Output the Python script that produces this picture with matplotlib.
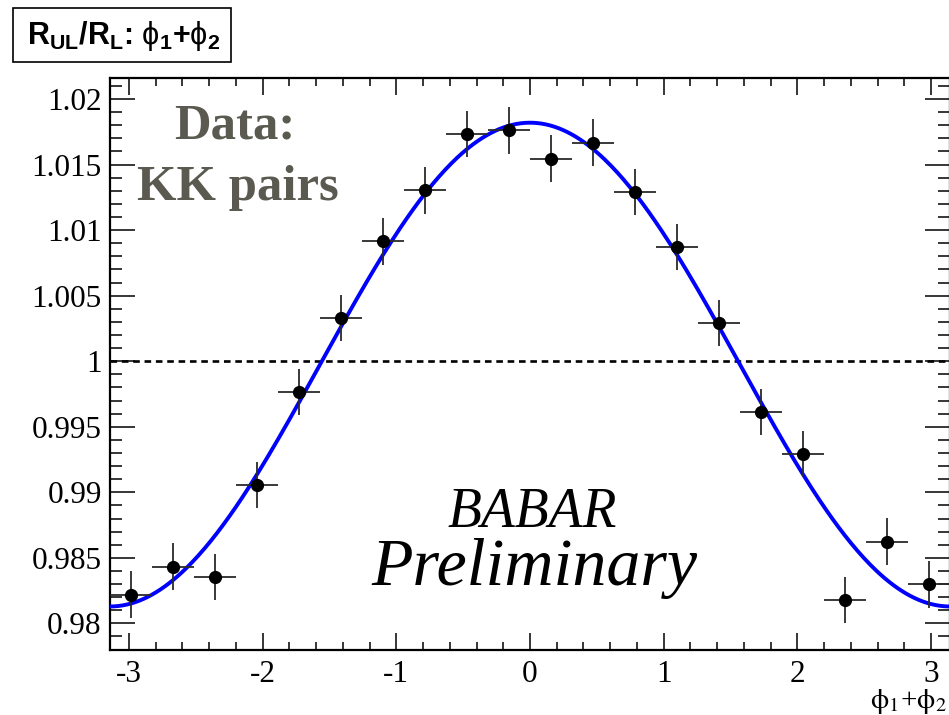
import numpy as np
import matplotlib
matplotlib.use("Agg")
import matplotlib.pyplot as plt
from matplotlib.patches import Rectangle
from matplotlib.ticker import MultipleLocator

plt.rcParams['mathtext.fontset'] = 'custom'
plt.rcParams['mathtext.rm'] = 'Liberation Sans'
plt.rcParams['mathtext.it'] = 'Liberation Sans:bold'
plt.rcParams['mathtext.bf'] = 'Liberation Sans:bold'
plt.rcParams['mathtext.fallback'] = 'stixsans'

# 20 bins in phi1+phi2 over [-pi, pi]
n_bins = 20
ratio = [0.98220, 0.98433, 0.98354, 0.99055, 0.99764,
         1.00328, 1.00914, 1.01303, 1.01733, 1.01760,
         1.01545, 1.01667, 1.01290, 1.00871, 1.00290,
         0.99611, 0.99291, 0.98179, 0.98623, 0.98298]
ratio_err = [0.00177, 0.00177, 0.00177, 0.00177, 0.00177,
             0.00177, 0.00177, 0.00177, 0.00177, 0.00177,
             0.00177, 0.00177, 0.00177, 0.00177, 0.00177,
             0.00177, 0.00177, 0.00177, 0.00178, 0.00177]

# fit: p0 + p1*cos(phi1+phi2)
fit_p0 = 0.99974
fit_p1 = 0.01845

edges = np.linspace(-np.pi, np.pi, n_bins + 1)
centers = 0.5 * (edges[:-1] + edges[1:])
half_width = 0.5 * (edges[1] - edges[0])

fig = plt.figure(figsize=(9.49, 7.15), dpi=100)
ax = fig.add_axes([110 / 949, 65 / 715, 840 / 949, 572 / 715])

ax.axhline(1.0, color='black', lw=1.9, ls=(0, (2.5, 1.8)), zorder=1)

xs = np.linspace(-np.pi, np.pi, 400)
ax.plot(xs, fit_p0 + fit_p1 * np.cos(xs), color='#0000ff', lw=2.8, zorder=3)

ax.errorbar(centers, ratio, xerr=half_width, yerr=ratio_err, fmt='o',
            color='black', ecolor='#2a2a2a', elinewidth=1.3, ms=8.5,
            capsize=0, zorder=4)

ax.set_xlim(-np.pi, np.pi)
ax.set_ylim(0.97797, 1.0216)

ax.xaxis.set_minor_locator(MultipleLocator(0.2))
ax.yaxis.set_minor_locator(MultipleLocator(0.001))
ax.set_xticks([-3, -2, -1, 0, 1, 2, 3])
ax.set_xticklabels(['-3', '-2', '-1', '0', '1', '2', '3'])
ax.set_yticks([0.98, 0.985, 0.99, 0.995, 1.0, 1.005, 1.01, 1.015, 1.02])
ax.set_yticklabels(['0.98', '0.985', '0.99', '0.995', '1', '1.005',
                    '1.01', '1.015', '1.02'])

ax.tick_params(which='both', direction='in', top=True, right=True,
               width=1.1, color='black')
ax.tick_params(axis='x', which='major', length=12, pad=7)
ax.tick_params(axis='x', which='minor', length=6)
ax.tick_params(axis='y', which='major', length=18, pad=6)
ax.tick_params(axis='y', which='minor', length=8.5)
for lab in ax.get_xticklabels() + ax.get_yticklabels():
    lab.set_fontfamily('Liberation Serif')
    lab.set_fontsize(22.5)
for sp in ax.spines.values():
    sp.set_linewidth(1.6)

# x axis title, ROOT style at the right end
fig.text(947 / 949, 13 / 715, r'$\mathrm{\phi}_{1}$+$\mathrm{\phi}_{2}$',
         ha='right', va='center', fontsize=21, family='Liberation Serif',
         math_fontfamily='stix')

ax.text(0.148, 0.895, 'Data:', transform=ax.transAxes, ha='center',
        va='baseline', fontsize=36.5, fontweight='bold',
        family='Liberation Serif', color='#5b5a50')
ax.text(0.152, 0.787, 'KK pairs', transform=ax.transAxes, ha='center',
        va='baseline', fontsize=36.5, fontweight='bold',
        family='Liberation Serif', color='#5b5a50')

ax.text(0.503, 0.215, 'BABAR', transform=ax.transAxes, ha='center',
        va='baseline', fontsize=40, style='italic',
        family='Liberation Serif', color='black')
ax.text(0.505, 0.114, 'Preliminary', transform=ax.transAxes, ha='center',
        va='baseline', fontsize=49, style='italic',
        family='Liberation Serif', color='black')

# pad title box
fig.patches.append(Rectangle((13 / 949, 1 - 62 / 715), 218 / 949, 54 / 715,
                             transform=fig.transFigure, fill=False,
                             edgecolor='black', lw=1.2))
fig.text(124 / 949, 1 - 36 / 715,
         r'$\mathbf{R_{UL}/R_{L}}$: $\mathrm{\phi}_{\mathbf{1}}$'
         r'$\mathbf{+}$$\mathrm{\phi}_{\mathbf{2}}$',
         ha='center', va='center', fontsize=22, fontweight='bold',
         family='Liberation Sans', math_fontfamily='custom')

fig.savefig('out.png', dpi=100)
